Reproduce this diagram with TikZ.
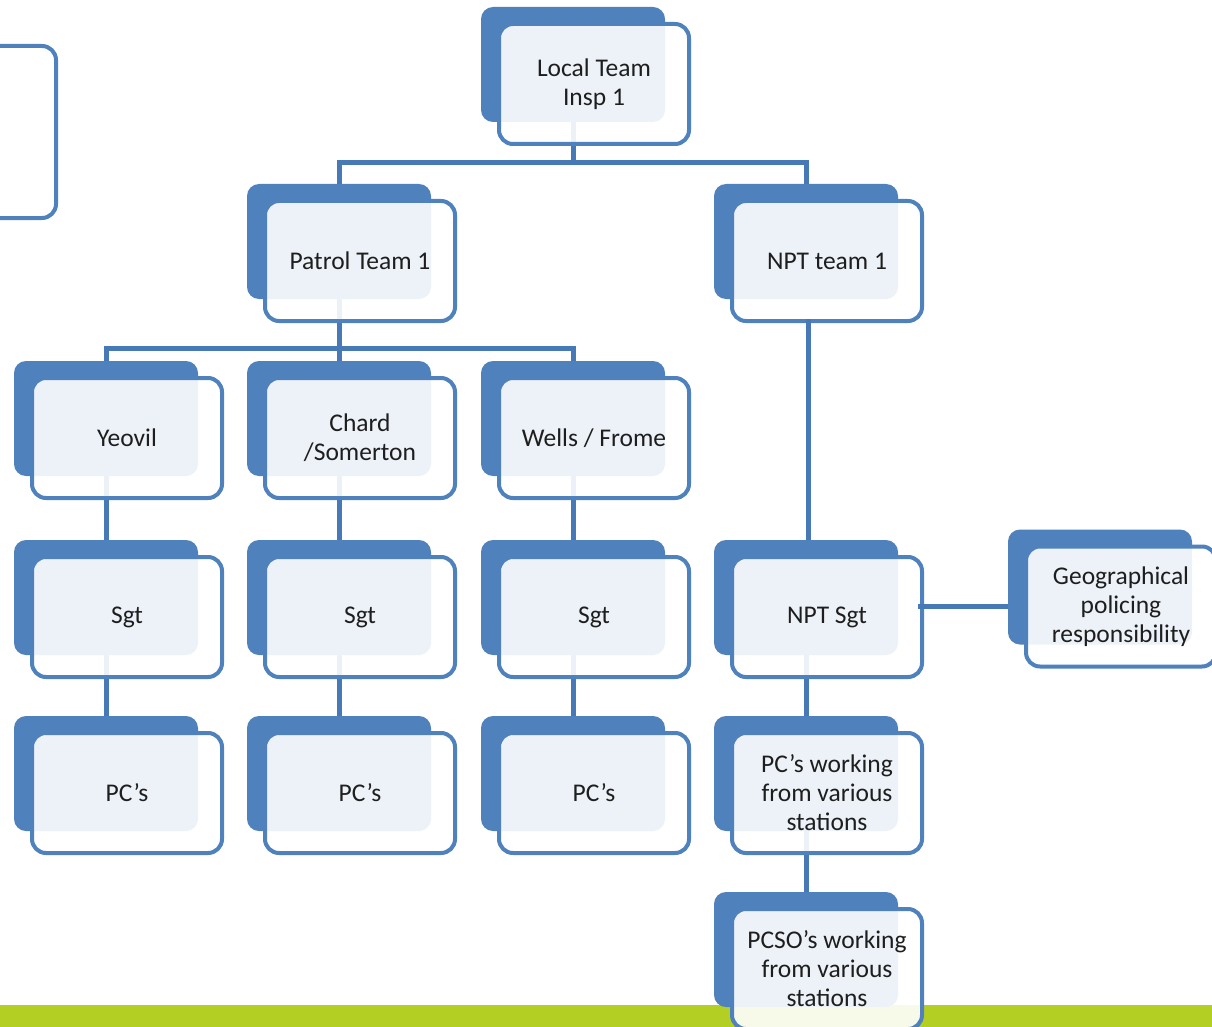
\documentclass[tikz,border=0pt]{standalone}
\usepackage{fontspec}
\setmainfont{Carlito}
\usetikzlibrary{positioning}
\definecolor{ofblue}{RGB}{79,129,189}
\definecolor{linkblue}{RGB}{71,121,182}
\definecolor{barlime}{RGB}{180,207,35}
\definecolor{txtgray}{RGB}{30,30,30}
\tikzset{
	%Define style for the dark boxes behind
	backbox/.style={
		rectangle,
		rounded corners=12pt,
		fill=ofblue,
		minimum width=184pt,
		minimum height=115pt,
		inner sep=0pt, outer sep=0pt},
	%Define style for the front boxes
	frontbox/.style={
		rectangle,
		rounded corners=14pt,
		draw=ofblue, line width=4pt,
		fill=white, fill opacity=0.9, text opacity=1,
		minimum width=190pt,
		minimum height=120pt,
		anchor=north west,
		align=center,
		text=txtgray,
		font=\fontsize{25.5}{29}\selectfont},
	% Define connector style
	link/.style={
		draw=linkblue,
		line width=5pt}
}
\begin{document}
\begin{tikzpicture}[x=1pt, y=-1pt]

	\pgfdeclarelayer{bg}    % layer for the bar and the connectors
	\pgfsetlayers{bg,main}
	\useasboundingbox (0,0) rectangle (1212,1027);

	% back boxes
	\node[backbox] (local-bk) at (573,64.5) {};
	\node[backbox, below=62pt of local-bk, xshift=-234pt] (patrol-bk) {};
	\node[backbox, below=62pt of local-bk, xshift=233pt] (npt-bk) {};
	\node[backbox, below=62pt of patrol-bk] (chard-bk) {};
	\node[backbox, left=49pt of chard-bk] (yeovil-bk) {};
	\node[backbox, right=50pt of chard-bk] (wells-bk) {};
	\node[backbox, below=64pt of yeovil-bk] (yeovil-sgt-bk) {};
	\node[backbox, below=64pt of chard-bk] (chard-sgt-bk) {};
	\node[backbox, below=64pt of wells-bk] (wells-sgt-bk) {};
	\node[backbox, below=61pt of yeovil-sgt-bk] (yeovil-pc-bk) {};
	\node[backbox, below=61pt of chard-sgt-bk] (chard-pc-bk) {};
	\node[backbox, below=61pt of wells-sgt-bk] (wells-pc-bk) {};
	\node[backbox, right=49pt of wells-sgt-bk] (nptsgt-bk) {};
	\node[backbox, below=61pt of nptsgt-bk] (nptpc-bk) {};
	\node[backbox, below=61pt of nptpc-bk] (pcso-bk) {};
	\node[backbox, right=110pt of nptsgt-bk, yshift=10.5pt] (geo-bk) {};

	% front boxes
	\node[frontbox, minimum width=100pt, minimum height=172pt] (side) at (-46,44) {};
	\node[frontbox] (local) at ([xshift=16pt,yshift=-15pt]local-bk.north west) {Local Team\\Insp 1};
	\node[frontbox] (patrol) at ([xshift=16pt,yshift=-15pt]patrol-bk.north west) {Patrol Team 1};
	\node[frontbox] (npt) at ([xshift=16pt,yshift=-15pt]npt-bk.north west) {NPT team 1};
	\node[frontbox] (yeovil) at ([xshift=16pt,yshift=-15pt]yeovil-bk.north west) {Yeovil};
	\node[frontbox] (chard) at ([xshift=16pt,yshift=-15pt]chard-bk.north west) {Chard\\/Somerton};
	\node[frontbox] (wells) at ([xshift=16pt,yshift=-15pt]wells-bk.north west) {Wells / Frome};
	\node[frontbox] (yeovil-sgt) at ([xshift=16pt,yshift=-15pt]yeovil-sgt-bk.north west) {Sgt};
	\node[frontbox] (chard-sgt) at ([xshift=16pt,yshift=-15pt]chard-sgt-bk.north west) {Sgt};
	\node[frontbox] (wells-sgt) at ([xshift=16pt,yshift=-15pt]wells-sgt-bk.north west) {Sgt};
	\node[frontbox] (yeovil-pc) at ([xshift=16pt,yshift=-15pt]yeovil-pc-bk.north west) {PC’s};
	\node[frontbox] (chard-pc) at ([xshift=16pt,yshift=-15pt]chard-pc-bk.north west) {PC’s};
	\node[frontbox] (wells-pc) at ([xshift=16pt,yshift=-15pt]wells-pc-bk.north west) {PC’s};
	\node[frontbox] (nptsgt) at ([xshift=16pt,yshift=-15pt]nptsgt-bk.north west) {NPT Sgt};
	\node[frontbox] (nptpc) at ([xshift=16pt,yshift=-15pt]nptpc-bk.north west) {PC’s working\\from various\\stations};
	\node[frontbox] (pcso) at ([xshift=16pt,yshift=-15pt]pcso-bk.north west) {PCSO’s working\\from various\\stations};
	\node[frontbox] (geo) at ([xshift=16pt,yshift=-15pt]geo-bk.north west) {Geographical\\policing\\responsibility};

	% these two run over the front boxes
	\path[link] ([xshift=2pt,yshift=4pt]npt.south -| npt-bk.south) -- ([xshift=2pt]nptsgt-bk.north);
	\path[link] ([yshift=-9pt]nptsgt-bk.east -| nptsgt.east) ++(-6,0) -- ([yshift=-9pt]nptsgt-bk.east -| geo-bk.west);

	\begin{pgfonlayer}{bg}
		\fill[white] (0,0) rectangle (1212,1027);
		\fill[barlime] (0,1005) rectangle (1212,1027);
		% connectors
		\path[link] (local-bk.south) -- ++(0,41) -| (patrol-bk.north)
			(local-bk.south) ++(0,41) -| (npt-bk.north);
		\path[link] (patrol-bk.south) -- ++(0,49) -| (yeovil-bk.north)
			(patrol-bk.south) -- (chard-bk.north)
			(patrol-bk.south) ++(0,49) -| (wells-bk.north);
		\path[link] (yeovil-bk) -- (yeovil-sgt-bk) -- (yeovil-pc-bk)
			(chard-bk) -- (chard-sgt-bk) -- (chard-pc-bk)
			(wells-bk) -- (wells-sgt-bk) -- (wells-pc-bk);
		\path[link] (nptsgt-bk) -- (nptpc-bk) -- (pcso-bk);
	\end{pgfonlayer}

\end{tikzpicture}
\end{document}
